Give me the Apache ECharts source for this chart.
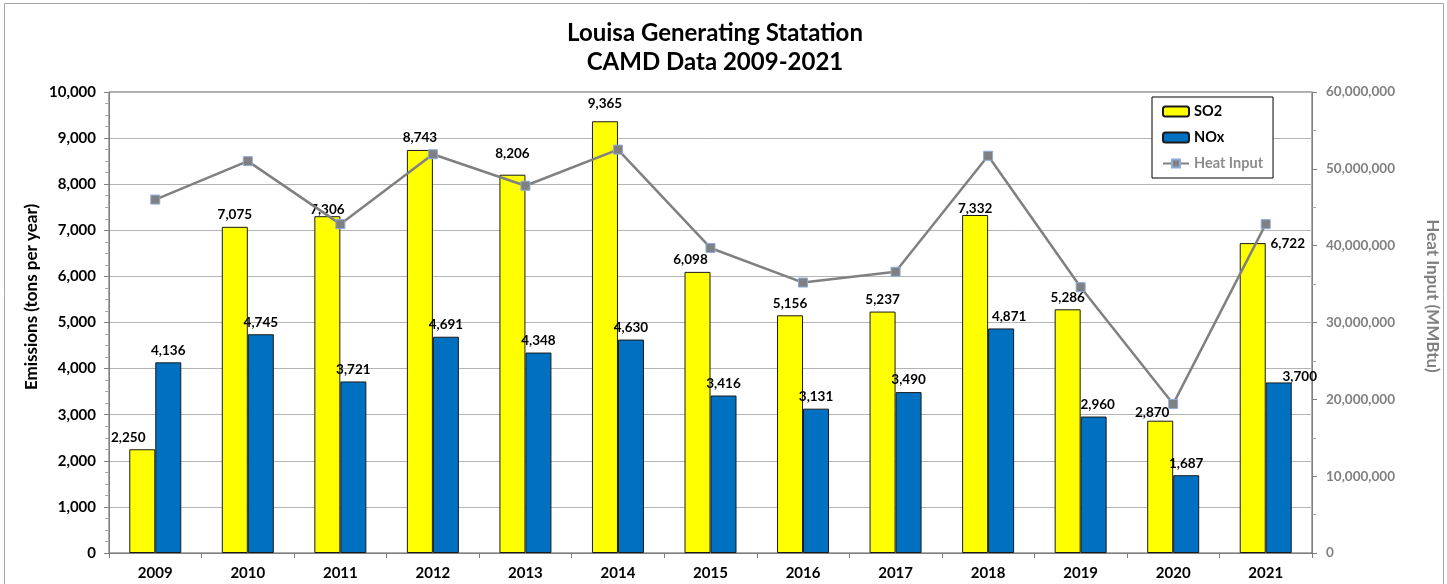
<!DOCTYPE html>
<html>
<head>
<meta charset="utf-8">
<script src="https://cdn.jsdelivr.net/npm/echarts@6/dist/echarts.min.js"></script>
<style>
html,body{margin:0;padding:0;background:#fff;}
#chart{width:1447px;height:584px;}
</style>
</head>
<body>
<div id="chart"></div>
<script>
const years = ['2009','2010','2011','2012','2013','2014','2015','2016','2017','2018','2019','2020','2021'];
const so2 = [2250, 7075, 7306, 8743, 8206, 9365, 6098, 5156, 5237, 7332, 5286, 2870, 6722];
const nox = [4136, 4745, 3721, 4691, 4348, 4630, 3416, 3131, 3490, 4871, 2960, 1687, 3700];
const heatInput = [46000000, 51000000, 42800000, 51900000, 47800000, 52500000, 39700000, 35200000, 36600000, 51700000, 34600000, 19400000, 42800000];
const leftTicks = [0, 10000, 1000];
const rightTicks = [0, 60000000, 10000000];

// label nudges (pixel offsets) for individual data labels
const so2Nudge = {0:[-14,0], 2:[0,5], 4:[0,-9], 5:[0,-6], 6:[-7,0], 9:[0,6], 11:[-8,4], 12:[35,13]};
const noxNudge = {9:[8,0], 10:[4,0], 12:[21,6]};

const FONT = 'Lato, "Open Sans", sans-serif';
const fmt = v => Number(v).toLocaleString('en-US');

function barData(vals, nudges) {
  return vals.map((v, i) => {
    const n = nudges[i];
    return n ? { value: v, label: { offset: n } } : v;
  });
}

const chart = echarts.init(document.getElementById('chart'), null, { renderer: 'canvas' });

const labelStyle = {
  show: true, position: 'top', distance: 5,
  fontFamily: FONT, fontWeight: 'bold', fontSize: 13.5, color: '#000',
  formatter: p => fmt(p.value)
};

chart.setOption({
  backgroundColor: '#fff',
  animation: false,
  textStyle: { fontFamily: FONT },
  graphic: [
    { type: 'rect', shape: { x: 4.5, y: 3.5, width: 1439, height: 620 }, style: { fill: 'none', stroke: '#a6a6a6', lineWidth: 1 }, silent: true, z: -1 },
    { type: 'text', x: 715, y: 33, style: { text: 'Louisa Generating Statation', textAlign: 'center', textVerticalAlign: 'middle', font: 'bold 24px ' + FONT, fill: '#000' } },
    { type: 'text', x: 715, y: 62, style: { text: 'CAMD Data 2009-2021', textAlign: 'center', textVerticalAlign: 'middle', font: 'bold 24px ' + FONT, fill: '#000' } },
    { type: 'text', x: 32, y: 297, rotation: Math.PI / 2, style: { text: 'Emissions (tons per year)', textAlign: 'center', textVerticalAlign: 'middle', font: 'bold 17px ' + FONT, fill: '#000' } },
    { type: 'text', x: 1432, y: 296, rotation: -Math.PI / 2, style: { text: 'Heat Input (MMBtu)', textAlign: 'center', textVerticalAlign: 'middle', font: 'bold 17px ' + FONT, fill: '#808080' } }
  ],
  grid: { left: 109, right: 135, top: 92, bottom: 31, show: true, borderColor: '#595959', borderWidth: 1, containLabel: false },
  legend: {
    orient: 'vertical', left: 1152, top: 97,
    backgroundColor: '#fff', borderColor: '#000', borderWidth: 1,
    padding: [6, 10, 6, 10], itemGap: 9, itemWidth: 26, itemHeight: 10,
    textStyle: { fontFamily: FONT, fontWeight: 'bold', fontSize: 14.5, color: '#000', lineHeight: 17 },
    data: [
      { name: 'SO2' },
      { name: 'NOx' },
      { name: 'Heat Input', textStyle: { color: '#8c8c8c' } }
    ]
  },
  xAxis: {
    type: 'category', data: years, boundaryGap: true,
    axisLine: { lineStyle: { color: '#808080', width: 1 } },
    axisTick: { show: true, alignWithLabel: false, length: 5, lineStyle: { color: '#808080' } },
    axisLabel: { fontFamily: FONT, fontWeight: 'bold', fontSize: 15, color: '#000', margin: 13 }
  },
  yAxis: [
    {
      type: 'value', min: leftTicks[0], max: leftTicks[1], interval: leftTicks[2],
      axisLine: { show: true, lineStyle: { color: '#808080' } },
      axisTick: { show: true, length: 5, lineStyle: { color: '#808080' } },
      minorTick: { show: true, splitNumber: 4, length: 4, lineStyle: { color: '#a6a6a6' } },
      splitLine: { show: true, lineStyle: { color: '#b4b4b4', width: 1 } },
      axisLabel: { fontFamily: FONT, fontWeight: 'bold', fontSize: 15, color: '#000', margin: 13, formatter: v => fmt(v) }
    },
    {
      type: 'value', min: rightTicks[0], max: rightTicks[1], interval: rightTicks[2],
      position: 'right',
      axisLine: { show: true, lineStyle: { color: '#808080' } },
      axisTick: { show: true, length: 5, lineStyle: { color: '#808080' } },
      minorTick: { show: true, splitNumber: 2, length: 4, lineStyle: { color: '#a6a6a6' } },
      splitLine: { show: false },
      axisLabel: { fontFamily: FONT, fontWeight: 'bold', fontSize: 13.5, color: '#808080', margin: 14, formatter: v => fmt(v) }
    }
  ],
  series: [
    {
      name: 'SO2', type: 'bar', yAxisIndex: 0, data: barData(so2, so2Nudge),
      barWidth: 26, barGap: '0%',
      itemStyle: { color: '#FFFF00', borderColor: '#1a1a1a', borderWidth: 1 },
      label: labelStyle, z: 2
    },
    {
      name: 'NOx', type: 'bar', yAxisIndex: 0, data: barData(nox, noxNudge),
      barWidth: 26, barGap: '0%',
      itemStyle: { color: '#0070C0', borderColor: '#1a1a1a', borderWidth: 1 },
      label: labelStyle, z: 2
    },
    {
      name: 'Heat Input', type: 'line', yAxisIndex: 1, data: heatInput,
      symbol: 'rect', symbolSize: 9, showSymbol: true,
      lineStyle: { color: '#808080', width: 2.5 },
      itemStyle: { color: '#808080', borderColor: '#8eaadb', borderWidth: 1 },
      z: 3
    }
  ]
});
</script>
</body>
</html>
